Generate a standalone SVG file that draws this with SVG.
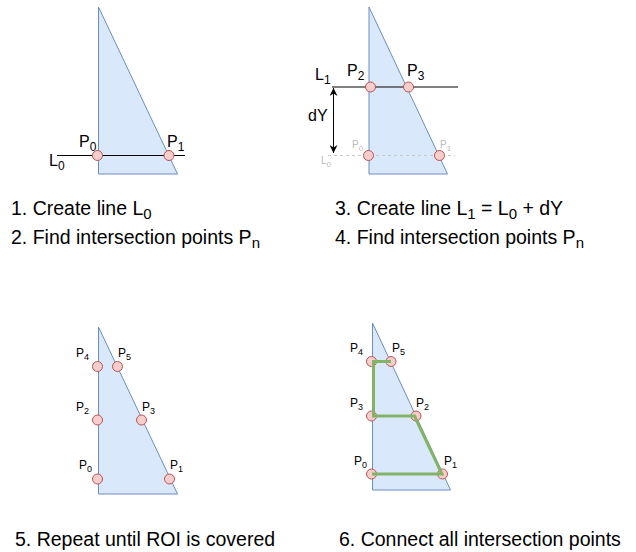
<svg xmlns="http://www.w3.org/2000/svg" width="636" height="552" viewBox="0 0 636 552">
<style>
  .roi{fill:#dae8fc;stroke:#6c8ebf;stroke-width:1}
  .pt{fill:#f8cecc;stroke:#b85450;stroke-width:1}
  .ln{stroke:#000;stroke-width:1;fill:none}
  .dash{stroke:#c8c8c8;stroke-width:1;stroke-dasharray:3 3;fill:none}
  .green{stroke:#82b366;stroke-width:3;fill:none;stroke-linejoin:miter}
  text{font-family:"Liberation Sans",Arial,sans-serif;fill:#000}
  .cap{font-size:19.5px}
  .lbl{font-size:16px}
  .sm{font-size:12px}
  .faint{font-size:10px;fill:#bbbbbb}
</style>
<defs>
  <marker id="ah" viewBox="0 0 10 10" refX="10" refY="5" markerWidth="8" markerHeight="8" orient="auto-start-reverse" markerUnits="userSpaceOnUse">
    <path d="M0,0 L10,5 L0,10 L3,5 Z" fill="#000"/>
  </marker>
</defs>

<!-- Panel 1 -->
<g id="panel1">
  <polygon class="roi" points="98.5,7 98.5,174 177.5,174"/>
  <line class="ln" x1="57" y1="155.5" x2="185" y2="155.5"/>
  <circle class="pt" cx="97.5" cy="155.5" r="5"/>
  <circle class="pt" cx="169" cy="155.5" r="5"/>
  <text class="lbl" x="79" y="147">P<tspan font-size="12" dy="4">0</tspan></text>
  <text class="lbl" x="167" y="147">P<tspan font-size="12" dy="4">1</tspan></text>
  <text class="lbl" x="49" y="166">L<tspan font-size="12" dy="4">0</tspan></text>
</g>

<!-- Panel 2 -->
<g id="panel2">
  <polygon class="roi" points="369,7 369,174 447.5,174"/>
  <line class="dash" x1="328" y1="155.5" x2="455" y2="155.5"/>
  <line class="ln" x1="332" y1="87" x2="458" y2="87" stroke="#333"/>
  <circle class="pt" cx="370.5" cy="87" r="5"/>
  <circle class="pt" cx="408.5" cy="87" r="5"/>
  <circle class="pt" cx="368.5" cy="155.5" r="5"/>
  <circle class="pt" cx="439.5" cy="155.5" r="5"/>
  <text class="lbl" x="315" y="80">L<tspan font-size="12" dy="4">1</tspan></text>
  <text class="lbl" x="347" y="76">P<tspan font-size="12" dy="4">2</tspan></text>
  <text class="lbl" x="407" y="76">P<tspan font-size="12" dy="4">3</tspan></text>
  <text class="lbl" x="308" y="121">dY</text>
  <text class="faint" x="352" y="148">P<tspan font-size="8" dy="3">0</tspan></text>
  <text class="faint" x="440" y="148">P<tspan font-size="8" dy="3">1</tspan></text>
  <text class="faint" x="321" y="164">L<tspan font-size="8" dy="3">0</tspan></text>
</g>

<!-- Panel 3 -->
<g id="panel3">
  <polygon class="roi" points="98.5,327 98.5,494 177.5,494"/>
  <circle class="pt" cx="97.5" cy="366.5" r="5"/>
  <circle class="pt" cx="117.5" cy="366.5" r="5"/>
  <circle class="pt" cx="97.5" cy="420" r="5"/>
  <circle class="pt" cx="141.5" cy="420" r="5"/>
  <circle class="pt" cx="97.5" cy="479" r="5"/>
  <circle class="pt" cx="169.5" cy="479" r="5"/>
  <text class="sm" x="76" y="357">P<tspan font-size="9" dy="3">4</tspan></text>
  <text class="sm" x="118" y="357">P<tspan font-size="9" dy="3">5</tspan></text>
  <text class="sm" x="76" y="411">P<tspan font-size="9" dy="3">2</tspan></text>
  <text class="sm" x="142" y="411">P<tspan font-size="9" dy="3">3</tspan></text>
  <text class="sm" x="79" y="469">P<tspan font-size="9" dy="3">0</tspan></text>
  <text class="sm" x="170" y="469">P<tspan font-size="9" dy="3">1</tspan></text>
</g>

<!-- Panel 4 -->
<g id="panel4">
  <polygon class="roi" points="372.5,323 372.5,490 450.5,490"/>
  <circle class="pt" cx="371.5" cy="361.5" r="5"/>
  <circle class="pt" cx="391" cy="361.5" r="5"/>
  <circle class="pt" cx="371.5" cy="416" r="5"/>
  <circle class="pt" cx="416" cy="416" r="5"/>
  <circle class="pt" cx="371.5" cy="474" r="5"/>
  <circle class="pt" cx="442.5" cy="474" r="5"/>
  <text class="sm" x="350" y="352">P<tspan font-size="9" dy="3">4</tspan></text>
  <text class="sm" x="392" y="352">P<tspan font-size="9" dy="3">5</tspan></text>
  <text class="sm" x="350" y="407">P<tspan font-size="9" dy="3">3</tspan></text>
  <text class="sm" x="416" y="407">P<tspan font-size="9" dy="3">2</tspan></text>
  <text class="sm" x="354" y="465">P<tspan font-size="9" dy="3">0</tspan></text>
  <text class="sm" x="444" y="465">P<tspan font-size="9" dy="3">1</tspan></text>
</g>

<g id="connectors">
  <line class="ln" x1="333.5" y1="88" x2="333.5" y2="153" marker-start="url(#ah)" marker-end="url(#ah)"/>
  <path class="green" d="M391,361.5 L373.5,361.5 L373.5,416 L414.5,416 L442,474 L372,474"/>
</g>

<g id="captions">
  <text class="cap" x="11" y="215">1. Create line L<tspan font-size="15" dy="4">0</tspan></text>
  <text class="cap" x="11" y="243.5">2. Find intersection points P<tspan font-size="15" dy="4">n</tspan></text>
  <text class="cap" x="335" y="215">3. Create line L<tspan font-size="15" dy="4">1</tspan><tspan dy="-4"> = L</tspan><tspan font-size="15" dy="4">0</tspan><tspan dy="-4"> + dY</tspan></text>
  <text class="cap" x="335" y="243.5">4. Find intersection points P<tspan font-size="15" dy="4">n</tspan></text>
  <text class="cap" x="15" y="546">5. Repeat until ROI is covered</text>
  <text class="cap" x="339" y="546">6. Connect all intersection points</text>
</g>
</svg>
